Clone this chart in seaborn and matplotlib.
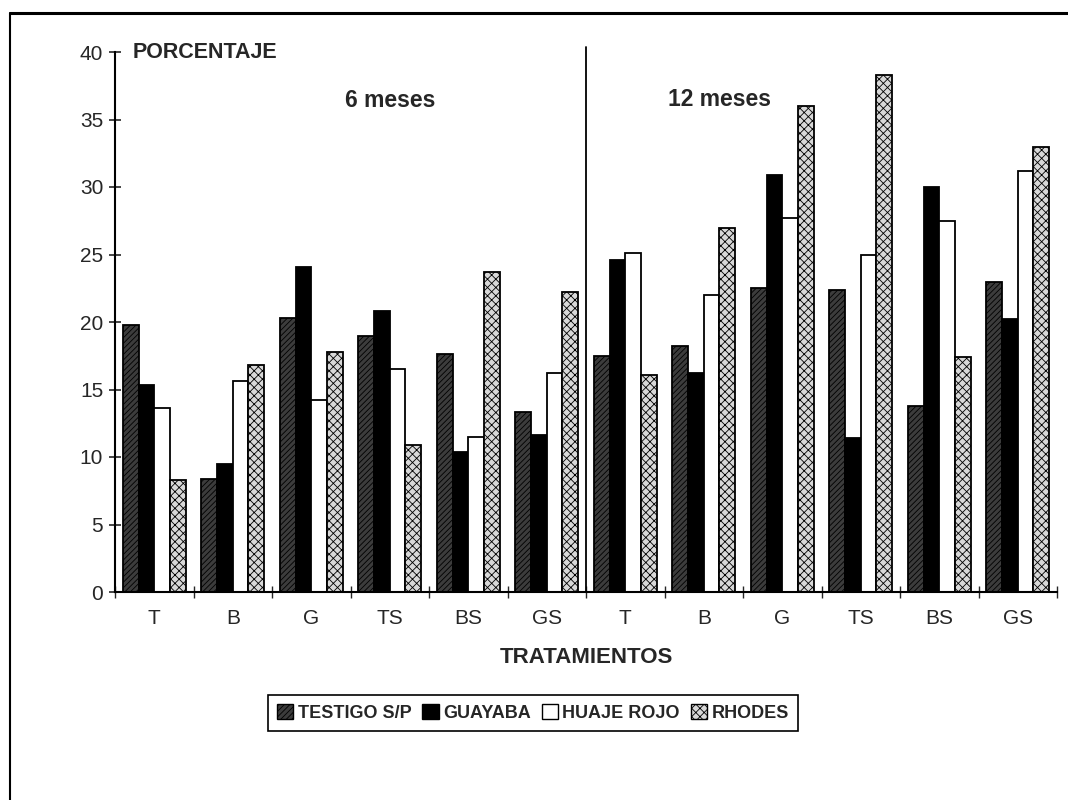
import numpy as np
import pandas as pd
import matplotlib
matplotlib.use("Agg")
import matplotlib.pyplot as plt
import matplotlib.patches as mpatches
from matplotlib.lines import Line2D
import seaborn as sns

periodos = ["6 meses", "12 meses"]
tratamientos = ["T", "B", "G", "TS", "BS", "GS"]
especies = ["TESTIGO S/P", "GUAYABA", "HUAJE ROJO", "RHODES"]

# porcentaje por tratamiento (T, B, G, TS, BS, GS)
testigo_6 = [19.8, 8.4, 20.3, 19.0, 17.6, 13.3]
guayaba_6 = [15.3, 9.5, 24.1, 20.8, 10.4, 11.6]
huaje_6 = [13.6, 15.6, 14.2, 16.5, 11.5, 16.2]
rhodes_6 = [8.3, 16.8, 17.8, 10.9, 23.7, 22.2]

testigo_12 = [17.5, 18.2, 22.5, 22.4, 13.8, 23.0]
guayaba_12 = [24.6, 16.2, 30.9, 11.4, 30.0, 20.2]
huaje_12 = [25.1, 22.0, 27.7, 25.0, 27.5, 31.2]
rhodes_12 = [16.1, 27.0, 36.0, 38.3, 17.4, 33.0]

series = {
    "6 meses": [testigo_6, guayaba_6, huaje_6, rhodes_6],
    "12 meses": [testigo_12, guayaba_12, huaje_12, rhodes_12],
}

estilos = {
    "TESTIGO S/P": dict(facecolor="#3c3c3c", hatch="//////"),
    "GUAYABA": dict(facecolor="black", hatch=None),
    "HUAJE ROJO": dict(facecolor="white", hatch=None),
    "RHODES": dict(facecolor="#d8d8d8", hatch="xxxx"),
}


def main():
    rows = []
    orden = []
    for p in periodos:
        for i, t in enumerate(tratamientos):
            key = f"{t} ({p})"
            orden.append(key)
            for esp, vals in zip(especies, series[p]):
                rows.append({"clave": key, "especie": esp, "valor": vals[i]})
    df = pd.DataFrame(rows)

    sns.set_style("white")
    plt.rcParams["font.family"] = ["Liberation Sans", "DejaVu Sans"]
    plt.rcParams["hatch.linewidth"] = 0.6

    fig = plt.figure(figsize=(10.68, 8), dpi=100)
    ax = fig.add_axes([0.1077, 0.26, 0.8820, 0.675])

    sns.barplot(data=df, x="clave", y="valor", hue="especie", order=orden,
                hue_order=especies, palette=[estilos[e]["facecolor"] for e in especies],
                width=0.8, saturation=1, edgecolor="black", linewidth=1.3,
                legend=False, ax=ax)

    for esp, cont in zip(especies, ax.containers):
        for bar in cont:
            bar.set_facecolor(estilos[esp]["facecolor"])
            if estilos[esp]["hatch"]:
                bar.set_hatch(estilos[esp]["hatch"])

    n = len(orden)
    ax.set_xlim(-0.5, n - 0.5)
    ax.set_ylim(0, 40)
    ax.set_yticks(np.arange(0, 41, 5))
    ax.set_xticks(range(n))
    ax.set_xticklabels(tratamientos * len(periodos))
    ax.set_xticks(np.arange(-0.5, n, 1), minor=True)

    ax.tick_params(axis="y", direction="inout", length=9, width=1.2,
                   labelsize=15, pad=4, left=True)
    ax.tick_params(axis="x", which="major", length=0, labelsize=15, pad=12)
    ax.tick_params(axis="x", which="minor", direction="inout", length=8,
                   width=1.0, bottom=True)

    for s in ["top", "right"]:
        ax.spines[s].set_visible(False)
    for s in ["left", "bottom"]:
        ax.spines[s].set_linewidth(1.5)
        ax.spines[s].set_color("black")

    # separador entre periodos
    ax.axvline(n / 2 - 0.5, ymin=0, ymax=1.01, color="black", lw=1.3, clip_on=False)

    ax.set_ylabel("")
    ax.set_xlabel("TRATAMIENTOS", fontsize=16, fontweight="bold", labelpad=14)

    ax.text(0.019, 1.0, "PORCENTAJE", transform=ax.transAxes, fontsize=15.5,
            fontweight="bold", va="center", ha="left")
    ax.text(3.0, 36.4, "6 meses", fontsize=16.5, fontweight="bold", ha="center", va="center")
    ax.text(7.2, 36.5, "12 meses", fontsize=16.5, fontweight="bold", ha="center", va="center")

    handles = [mpatches.Patch(facecolor=estilos[e]["facecolor"], hatch=estilos[e]["hatch"],
                              edgecolor="black", linewidth=1.0, label=e) for e in especies]
    leg = fig.legend(handles=handles, loc="center", bbox_to_anchor=(0.499, 0.109), ncol=4,
                     prop=dict(weight="bold", size=13), handlelength=0.9, handleheight=0.9,
                     handletextpad=0.25, columnspacing=0.6, borderpad=0.5,
                     fancybox=False, framealpha=1, edgecolor="black")
    leg.get_frame().set_linewidth(1.2)

    # marco del recuadro
    fig.add_artist(Line2D([10 / 1068, 10 / 1068], [0, 1 - 13 / 800], color="black",
                          lw=1.5, transform=fig.transFigure))
    fig.add_artist(Line2D([10 / 1068, 1], [1 - 13 / 800, 1 - 13 / 800], color="black",
                          lw=2.2, transform=fig.transFigure))

    fig.savefig("out.png", dpi=100)
    plt.close(fig)


if __name__ == "__main__":
    main()
